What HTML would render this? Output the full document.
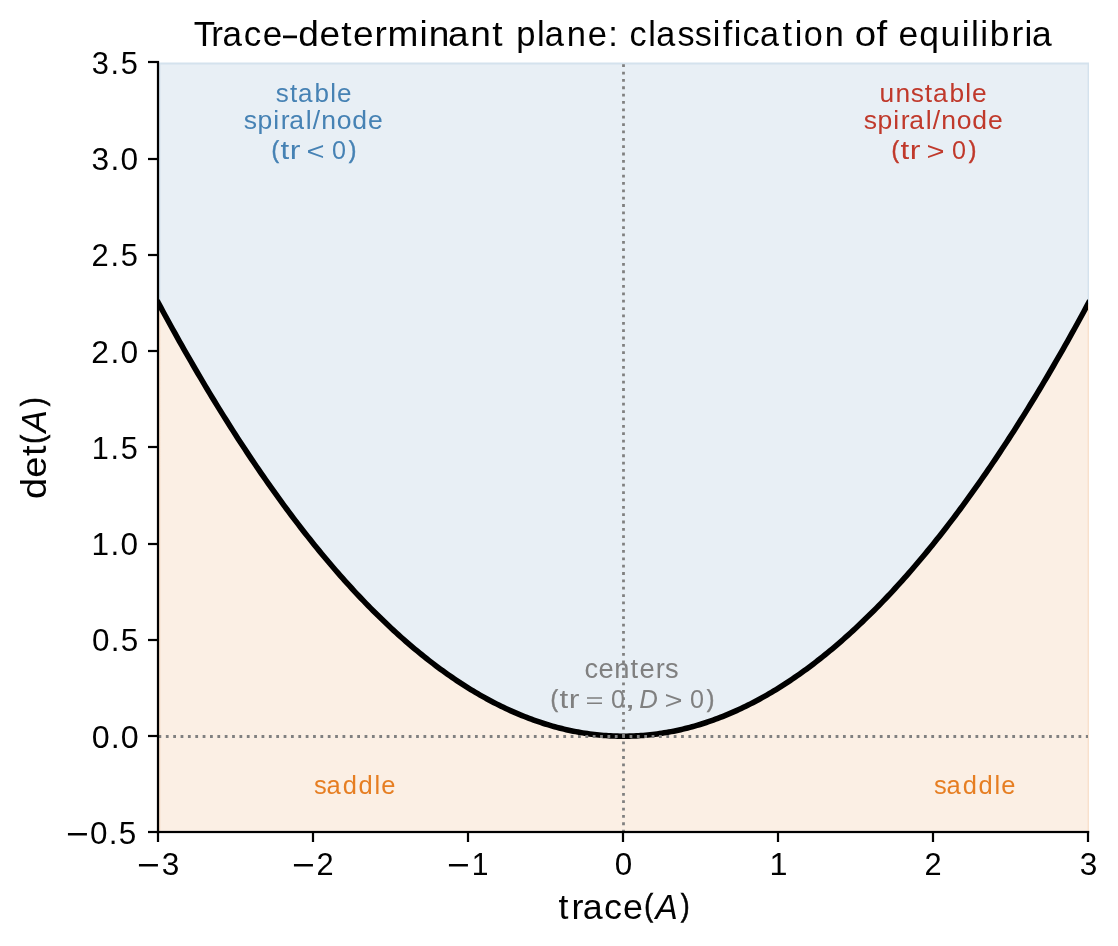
<!DOCTYPE html>
<html lang="en"><head><meta charset="utf-8"><title>Trace–determinant plane</title>
<style>
html,body{margin:0;padding:0;background:#fff;overflow:hidden}
svg{display:block}
svg text{font-family:"Liberation Sans",sans-serif;white-space:pre}
#labels{opacity:0.999}
</style></head><body>
<svg width="1118" height="946" viewBox="0 0 1118 946">
<defs><clipPath id="cf"><rect x="158" y="62" width="931" height="771"/></clipPath><clipPath id="cc"><rect x="158" y="62" width="930.1" height="771"/></clipPath></defs>
<rect x="0" y="0" width="1118" height="946" fill="#fff"/>
<g clip-path="url(#cf)">
<path d="M159.00 63.00 L159.00 303.63 L161.33 307.96 L163.66 312.27 L165.99 316.55 L168.32 320.82 L170.65 325.06 L172.98 329.29 L175.32 333.49 L177.65 337.67 L179.98 341.82 L182.31 345.96 L184.64 350.07 L186.97 354.16 L189.30 358.23 L191.63 362.28 L193.96 366.31 L196.29 370.31 L198.62 374.30 L200.95 378.26 L203.29 382.20 L205.62 386.11 L207.95 390.01 L210.28 393.88 L212.61 397.74 L214.94 401.57 L217.27 405.38 L219.60 409.16 L221.93 412.93 L224.26 416.67 L226.59 420.39 L228.92 424.09 L231.26 427.77 L233.59 431.43 L235.92 435.06 L238.25 438.68 L240.58 442.27 L242.91 445.84 L245.24 449.38 L247.57 452.91 L249.90 456.41 L252.23 459.90 L254.56 463.36 L256.89 466.80 L259.23 470.21 L261.56 473.61 L263.89 476.98 L266.22 480.33 L268.55 483.66 L270.88 486.97 L273.21 490.26 L275.54 493.52 L277.87 496.77 L280.20 499.99 L282.53 503.19 L284.86 506.37 L287.20 509.52 L289.53 512.66 L291.86 515.77 L294.19 518.86 L296.52 521.93 L298.85 524.97 L301.18 528.00 L303.51 531.00 L305.84 533.99 L308.17 536.95 L310.50 539.88 L312.83 542.80 L315.17 545.69 L317.50 548.57 L319.83 551.42 L322.16 554.25 L324.49 557.06 L326.82 559.84 L329.15 562.61 L331.48 565.35 L333.81 568.07 L336.14 570.77 L338.47 573.44 L340.80 576.10 L343.14 578.73 L345.47 581.35 L347.80 583.94 L350.13 586.50 L352.46 589.05 L354.79 591.58 L357.12 594.08 L359.45 596.56 L361.78 599.02 L364.11 601.46 L366.44 603.87 L368.77 606.27 L371.11 608.64 L373.44 610.99 L375.77 613.32 L378.10 615.63 L380.43 617.91 L382.76 620.17 L385.09 622.42 L387.42 624.64 L389.75 626.83 L392.08 629.01 L394.41 631.17 L396.74 633.30 L399.08 635.41 L401.41 637.50 L403.74 639.57 L406.07 641.61 L408.40 643.64 L410.73 645.64 L413.06 647.62 L415.39 649.58 L417.72 651.52 L420.05 653.43 L422.38 655.32 L424.71 657.20 L427.05 659.05 L429.38 660.87 L431.71 662.68 L434.04 664.47 L436.37 666.23 L438.70 667.97 L441.03 669.69 L443.36 671.39 L445.69 673.06 L448.02 674.72 L450.35 676.35 L452.68 677.96 L455.02 679.55 L457.35 681.12 L459.68 682.66 L462.01 684.18 L464.34 685.69 L466.67 687.17 L469.00 688.62 L471.33 690.06 L473.66 691.48 L475.99 692.87 L478.32 694.24 L480.65 695.59 L482.98 696.92 L485.32 698.22 L487.65 699.51 L489.98 700.77 L492.31 702.01 L494.64 703.23 L496.97 704.43 L499.30 705.60 L501.63 706.76 L503.96 707.89 L506.29 709.00 L508.62 710.09 L510.95 711.15 L513.29 712.20 L515.62 713.22 L517.95 714.22 L520.28 715.20 L522.61 716.16 L524.94 717.09 L527.27 718.01 L529.60 718.90 L531.93 719.77 L534.26 720.62 L536.59 721.45 L538.92 722.25 L541.26 723.04 L543.59 723.80 L545.92 724.54 L548.25 725.26 L550.58 725.95 L552.91 726.63 L555.24 727.28 L557.57 727.91 L559.90 728.52 L562.23 729.11 L564.56 729.67 L566.89 730.22 L569.23 730.74 L571.56 731.24 L573.89 731.72 L576.22 732.18 L578.55 732.61 L580.88 733.03 L583.21 733.42 L585.54 733.79 L587.87 734.14 L590.20 734.46 L592.53 734.77 L594.86 735.05 L597.20 735.31 L599.53 735.55 L601.86 735.77 L604.19 735.96 L606.52 736.14 L608.85 736.29 L611.18 736.42 L613.51 736.53 L615.84 736.62 L618.17 736.68 L620.50 736.73 L622.83 736.75 L625.17 736.75 L627.50 736.73 L629.83 736.68 L632.16 736.62 L634.49 736.53 L636.82 736.42 L639.15 736.29 L641.48 736.14 L643.81 735.96 L646.14 735.77 L648.47 735.55 L650.80 735.31 L653.14 735.05 L655.47 734.77 L657.80 734.46 L660.13 734.14 L662.46 733.79 L664.79 733.42 L667.12 733.03 L669.45 732.61 L671.78 732.18 L674.11 731.72 L676.44 731.24 L678.77 730.74 L681.11 730.22 L683.44 729.67 L685.77 729.11 L688.10 728.52 L690.43 727.91 L692.76 727.28 L695.09 726.63 L697.42 725.95 L699.75 725.26 L702.08 724.54 L704.41 723.80 L706.74 723.04 L709.08 722.25 L711.41 721.45 L713.74 720.62 L716.07 719.77 L718.40 718.90 L720.73 718.01 L723.06 717.09 L725.39 716.16 L727.72 715.20 L730.05 714.22 L732.38 713.22 L734.71 712.20 L737.05 711.15 L739.38 710.09 L741.71 709.00 L744.04 707.89 L746.37 706.76 L748.70 705.60 L751.03 704.43 L753.36 703.23 L755.69 702.01 L758.02 700.77 L760.35 699.51 L762.68 698.22 L765.02 696.92 L767.35 695.59 L769.68 694.24 L772.01 692.87 L774.34 691.48 L776.67 690.06 L779.00 688.62 L781.33 687.17 L783.66 685.69 L785.99 684.18 L788.32 682.66 L790.65 681.12 L792.98 679.55 L795.32 677.96 L797.65 676.35 L799.98 674.72 L802.31 673.06 L804.64 671.39 L806.97 669.69 L809.30 667.97 L811.63 666.23 L813.96 664.47 L816.29 662.68 L818.62 660.87 L820.95 659.05 L823.29 657.20 L825.62 655.32 L827.95 653.43 L830.28 651.52 L832.61 649.58 L834.94 647.62 L837.27 645.64 L839.60 643.64 L841.93 641.61 L844.26 639.57 L846.59 637.50 L848.92 635.41 L851.26 633.30 L853.59 631.17 L855.92 629.01 L858.25 626.83 L860.58 624.64 L862.91 622.42 L865.24 620.17 L867.57 617.91 L869.90 615.63 L872.23 613.32 L874.56 610.99 L876.89 608.64 L879.23 606.27 L881.56 603.87 L883.89 601.46 L886.22 599.02 L888.55 596.56 L890.88 594.08 L893.21 591.58 L895.54 589.05 L897.87 586.50 L900.20 583.94 L902.53 581.35 L904.86 578.73 L907.20 576.10 L909.53 573.44 L911.86 570.77 L914.19 568.07 L916.52 565.35 L918.85 562.61 L921.18 559.84 L923.51 557.06 L925.84 554.25 L928.17 551.42 L930.50 548.57 L932.83 545.69 L935.17 542.80 L937.50 539.88 L939.83 536.95 L942.16 533.99 L944.49 531.00 L946.82 528.00 L949.15 524.97 L951.48 521.93 L953.81 518.86 L956.14 515.77 L958.47 512.66 L960.80 509.52 L963.14 506.37 L965.47 503.19 L967.80 499.99 L970.13 496.77 L972.46 493.52 L974.79 490.26 L977.12 486.97 L979.45 483.66 L981.78 480.33 L984.11 476.98 L986.44 473.61 L988.77 470.21 L991.11 466.80 L993.44 463.36 L995.77 459.90 L998.10 456.41 L1000.43 452.91 L1002.76 449.38 L1005.09 445.84 L1007.42 442.27 L1009.75 438.68 L1012.08 435.06 L1014.41 431.43 L1016.74 427.77 L1019.08 424.09 L1021.41 420.39 L1023.74 416.67 L1026.07 412.93 L1028.40 409.16 L1030.73 405.38 L1033.06 401.57 L1035.39 397.74 L1037.72 393.88 L1040.05 390.01 L1042.38 386.11 L1044.71 382.20 L1047.05 378.26 L1049.38 374.30 L1051.71 370.31 L1054.04 366.31 L1056.37 362.28 L1058.70 358.23 L1061.03 354.16 L1063.36 350.07 L1065.69 345.96 L1068.02 341.82 L1070.35 337.67 L1072.68 333.49 L1075.02 329.29 L1077.35 325.06 L1079.68 320.82 L1082.01 316.55 L1084.34 312.27 L1086.67 307.96 L1089.00 303.63 L1089.00 63.00 Z" fill="#e8eff5" stroke="#4682b4" stroke-opacity="0.12" stroke-width="2.78" stroke-linejoin="miter"/>
<path d="M159.00 833.00 L159.00 303.63 L161.33 307.96 L163.66 312.27 L165.99 316.55 L168.32 320.82 L170.65 325.06 L172.98 329.29 L175.32 333.49 L177.65 337.67 L179.98 341.82 L182.31 345.96 L184.64 350.07 L186.97 354.16 L189.30 358.23 L191.63 362.28 L193.96 366.31 L196.29 370.31 L198.62 374.30 L200.95 378.26 L203.29 382.20 L205.62 386.11 L207.95 390.01 L210.28 393.88 L212.61 397.74 L214.94 401.57 L217.27 405.38 L219.60 409.16 L221.93 412.93 L224.26 416.67 L226.59 420.39 L228.92 424.09 L231.26 427.77 L233.59 431.43 L235.92 435.06 L238.25 438.68 L240.58 442.27 L242.91 445.84 L245.24 449.38 L247.57 452.91 L249.90 456.41 L252.23 459.90 L254.56 463.36 L256.89 466.80 L259.23 470.21 L261.56 473.61 L263.89 476.98 L266.22 480.33 L268.55 483.66 L270.88 486.97 L273.21 490.26 L275.54 493.52 L277.87 496.77 L280.20 499.99 L282.53 503.19 L284.86 506.37 L287.20 509.52 L289.53 512.66 L291.86 515.77 L294.19 518.86 L296.52 521.93 L298.85 524.97 L301.18 528.00 L303.51 531.00 L305.84 533.99 L308.17 536.95 L310.50 539.88 L312.83 542.80 L315.17 545.69 L317.50 548.57 L319.83 551.42 L322.16 554.25 L324.49 557.06 L326.82 559.84 L329.15 562.61 L331.48 565.35 L333.81 568.07 L336.14 570.77 L338.47 573.44 L340.80 576.10 L343.14 578.73 L345.47 581.35 L347.80 583.94 L350.13 586.50 L352.46 589.05 L354.79 591.58 L357.12 594.08 L359.45 596.56 L361.78 599.02 L364.11 601.46 L366.44 603.87 L368.77 606.27 L371.11 608.64 L373.44 610.99 L375.77 613.32 L378.10 615.63 L380.43 617.91 L382.76 620.17 L385.09 622.42 L387.42 624.64 L389.75 626.83 L392.08 629.01 L394.41 631.17 L396.74 633.30 L399.08 635.41 L401.41 637.50 L403.74 639.57 L406.07 641.61 L408.40 643.64 L410.73 645.64 L413.06 647.62 L415.39 649.58 L417.72 651.52 L420.05 653.43 L422.38 655.32 L424.71 657.20 L427.05 659.05 L429.38 660.87 L431.71 662.68 L434.04 664.47 L436.37 666.23 L438.70 667.97 L441.03 669.69 L443.36 671.39 L445.69 673.06 L448.02 674.72 L450.35 676.35 L452.68 677.96 L455.02 679.55 L457.35 681.12 L459.68 682.66 L462.01 684.18 L464.34 685.69 L466.67 687.17 L469.00 688.62 L471.33 690.06 L473.66 691.48 L475.99 692.87 L478.32 694.24 L480.65 695.59 L482.98 696.92 L485.32 698.22 L487.65 699.51 L489.98 700.77 L492.31 702.01 L494.64 703.23 L496.97 704.43 L499.30 705.60 L501.63 706.76 L503.96 707.89 L506.29 709.00 L508.62 710.09 L510.95 711.15 L513.29 712.20 L515.62 713.22 L517.95 714.22 L520.28 715.20 L522.61 716.16 L524.94 717.09 L527.27 718.01 L529.60 718.90 L531.93 719.77 L534.26 720.62 L536.59 721.45 L538.92 722.25 L541.26 723.04 L543.59 723.80 L545.92 724.54 L548.25 725.26 L550.58 725.95 L552.91 726.63 L555.24 727.28 L557.57 727.91 L559.90 728.52 L562.23 729.11 L564.56 729.67 L566.89 730.22 L569.23 730.74 L571.56 731.24 L573.89 731.72 L576.22 732.18 L578.55 732.61 L580.88 733.03 L583.21 733.42 L585.54 733.79 L587.87 734.14 L590.20 734.46 L592.53 734.77 L594.86 735.05 L597.20 735.31 L599.53 735.55 L601.86 735.77 L604.19 735.96 L606.52 736.14 L608.85 736.29 L611.18 736.42 L613.51 736.53 L615.84 736.62 L618.17 736.68 L620.50 736.73 L622.83 736.75 L625.17 736.75 L627.50 736.73 L629.83 736.68 L632.16 736.62 L634.49 736.53 L636.82 736.42 L639.15 736.29 L641.48 736.14 L643.81 735.96 L646.14 735.77 L648.47 735.55 L650.80 735.31 L653.14 735.05 L655.47 734.77 L657.80 734.46 L660.13 734.14 L662.46 733.79 L664.79 733.42 L667.12 733.03 L669.45 732.61 L671.78 732.18 L674.11 731.72 L676.44 731.24 L678.77 730.74 L681.11 730.22 L683.44 729.67 L685.77 729.11 L688.10 728.52 L690.43 727.91 L692.76 727.28 L695.09 726.63 L697.42 725.95 L699.75 725.26 L702.08 724.54 L704.41 723.80 L706.74 723.04 L709.08 722.25 L711.41 721.45 L713.74 720.62 L716.07 719.77 L718.40 718.90 L720.73 718.01 L723.06 717.09 L725.39 716.16 L727.72 715.20 L730.05 714.22 L732.38 713.22 L734.71 712.20 L737.05 711.15 L739.38 710.09 L741.71 709.00 L744.04 707.89 L746.37 706.76 L748.70 705.60 L751.03 704.43 L753.36 703.23 L755.69 702.01 L758.02 700.77 L760.35 699.51 L762.68 698.22 L765.02 696.92 L767.35 695.59 L769.68 694.24 L772.01 692.87 L774.34 691.48 L776.67 690.06 L779.00 688.62 L781.33 687.17 L783.66 685.69 L785.99 684.18 L788.32 682.66 L790.65 681.12 L792.98 679.55 L795.32 677.96 L797.65 676.35 L799.98 674.72 L802.31 673.06 L804.64 671.39 L806.97 669.69 L809.30 667.97 L811.63 666.23 L813.96 664.47 L816.29 662.68 L818.62 660.87 L820.95 659.05 L823.29 657.20 L825.62 655.32 L827.95 653.43 L830.28 651.52 L832.61 649.58 L834.94 647.62 L837.27 645.64 L839.60 643.64 L841.93 641.61 L844.26 639.57 L846.59 637.50 L848.92 635.41 L851.26 633.30 L853.59 631.17 L855.92 629.01 L858.25 626.83 L860.58 624.64 L862.91 622.42 L865.24 620.17 L867.57 617.91 L869.90 615.63 L872.23 613.32 L874.56 610.99 L876.89 608.64 L879.23 606.27 L881.56 603.87 L883.89 601.46 L886.22 599.02 L888.55 596.56 L890.88 594.08 L893.21 591.58 L895.54 589.05 L897.87 586.50 L900.20 583.94 L902.53 581.35 L904.86 578.73 L907.20 576.10 L909.53 573.44 L911.86 570.77 L914.19 568.07 L916.52 565.35 L918.85 562.61 L921.18 559.84 L923.51 557.06 L925.84 554.25 L928.17 551.42 L930.50 548.57 L932.83 545.69 L935.17 542.80 L937.50 539.88 L939.83 536.95 L942.16 533.99 L944.49 531.00 L946.82 528.00 L949.15 524.97 L951.48 521.93 L953.81 518.86 L956.14 515.77 L958.47 512.66 L960.80 509.52 L963.14 506.37 L965.47 503.19 L967.80 499.99 L970.13 496.77 L972.46 493.52 L974.79 490.26 L977.12 486.97 L979.45 483.66 L981.78 480.33 L984.11 476.98 L986.44 473.61 L988.77 470.21 L991.11 466.80 L993.44 463.36 L995.77 459.90 L998.10 456.41 L1000.43 452.91 L1002.76 449.38 L1005.09 445.84 L1007.42 442.27 L1009.75 438.68 L1012.08 435.06 L1014.41 431.43 L1016.74 427.77 L1019.08 424.09 L1021.41 420.39 L1023.74 416.67 L1026.07 412.93 L1028.40 409.16 L1030.73 405.38 L1033.06 401.57 L1035.39 397.74 L1037.72 393.88 L1040.05 390.01 L1042.38 386.11 L1044.71 382.20 L1047.05 378.26 L1049.38 374.30 L1051.71 370.31 L1054.04 366.31 L1056.37 362.28 L1058.70 358.23 L1061.03 354.16 L1063.36 350.07 L1065.69 345.96 L1068.02 341.82 L1070.35 337.67 L1072.68 333.49 L1075.02 329.29 L1077.35 325.06 L1079.68 320.82 L1082.01 316.55 L1084.34 312.27 L1086.67 307.96 L1089.00 303.63 L1089.00 833.00 Z" fill="#fbefe4" stroke="#e67e22" stroke-opacity="0.12" stroke-width="2.78" stroke-linejoin="miter"/>
</g>
<g clip-path="url(#cc)"><path d="M158.45 303.08 L160.78 307.41 L163.11 311.72 L165.44 316.00 L167.77 320.27 L170.10 324.51 L172.43 328.74 L174.77 332.94 L177.10 337.12 L179.43 341.27 L181.76 345.41 L184.09 349.52 L186.42 353.61 L188.75 357.68 L191.08 361.73 L193.41 365.76 L195.74 369.76 L198.07 373.75 L200.40 377.71 L202.74 381.65 L205.07 385.56 L207.40 389.46 L209.73 393.33 L212.06 397.19 L214.39 401.02 L216.72 404.83 L219.05 408.61 L221.38 412.38 L223.71 416.12 L226.04 419.84 L228.37 423.54 L230.71 427.22 L233.04 430.88 L235.37 434.51 L237.70 438.13 L240.03 441.72 L242.36 445.29 L244.69 448.83 L247.02 452.36 L249.35 455.86 L251.68 459.35 L254.01 462.81 L256.34 466.25 L258.68 469.66 L261.01 473.06 L263.34 476.43 L265.67 479.78 L268.00 483.11 L270.33 486.42 L272.66 489.71 L274.99 492.97 L277.32 496.22 L279.65 499.44 L281.98 502.64 L284.31 505.82 L286.65 508.97 L288.98 512.11 L291.31 515.22 L293.64 518.31 L295.97 521.38 L298.30 524.42 L300.63 527.45 L302.96 530.45 L305.29 533.44 L307.62 536.40 L309.95 539.33 L312.28 542.25 L314.62 545.14 L316.95 548.02 L319.28 550.87 L321.61 553.70 L323.94 556.51 L326.27 559.29 L328.60 562.06 L330.93 564.80 L333.26 567.52 L335.59 570.22 L337.92 572.89 L340.25 575.55 L342.59 578.18 L344.92 580.80 L347.25 583.39 L349.58 585.95 L351.91 588.50 L354.24 591.03 L356.57 593.53 L358.90 596.01 L361.23 598.47 L363.56 600.91 L365.89 603.32 L368.22 605.72 L370.56 608.09 L372.89 610.44 L375.22 612.77 L377.55 615.08 L379.88 617.36 L382.21 619.62 L384.54 621.87 L386.87 624.09 L389.20 626.28 L391.53 628.46 L393.86 630.62 L396.19 632.75 L398.53 634.86 L400.86 636.95 L403.19 639.02 L405.52 641.06 L407.85 643.09 L410.18 645.09 L412.51 647.07 L414.84 649.03 L417.17 650.97 L419.50 652.88 L421.83 654.77 L424.16 656.65 L426.50 658.50 L428.83 660.32 L431.16 662.13 L433.49 663.92 L435.82 665.68 L438.15 667.42 L440.48 669.14 L442.81 670.84 L445.14 672.51 L447.47 674.17 L449.80 675.80 L452.13 677.41 L454.47 679.00 L456.80 680.57 L459.13 682.11 L461.46 683.63 L463.79 685.14 L466.12 686.62 L468.45 688.08 L470.78 689.51 L473.11 690.93 L475.44 692.32 L477.77 693.69 L480.10 695.04 L482.43 696.37 L484.77 697.67 L487.10 698.96 L489.43 700.22 L491.76 701.46 L494.09 702.68 L496.42 703.88 L498.75 705.05 L501.08 706.21 L503.41 707.34 L505.74 708.45 L508.07 709.54 L510.40 710.60 L512.74 711.65 L515.07 712.67 L517.40 713.67 L519.73 714.65 L522.06 715.61 L524.39 716.54 L526.72 717.46 L529.05 718.35 L531.38 719.22 L533.71 720.07 L536.04 720.90 L538.37 721.70 L540.71 722.49 L543.04 723.25 L545.37 723.99 L547.70 724.71 L550.03 725.40 L552.36 726.08 L554.69 726.73 L557.02 727.36 L559.35 727.97 L561.68 728.56 L564.01 729.12 L566.34 729.67 L568.68 730.19 L571.01 730.69 L573.34 731.17 L575.67 731.63 L578.00 732.06 L580.33 732.48 L582.66 732.87 L584.99 733.24 L587.32 733.59 L589.65 733.91 L591.98 734.22 L594.31 734.50 L596.65 734.76 L598.98 735.00 L601.31 735.22 L603.64 735.41 L605.97 735.59 L608.30 735.74 L610.63 735.87 L612.96 735.98 L615.29 736.07 L617.62 736.13 L619.95 736.18 L622.28 736.20 L624.62 736.20 L626.95 736.18 L629.28 736.13 L631.61 736.07 L633.94 735.98 L636.27 735.87 L638.60 735.74 L640.93 735.59 L643.26 735.41 L645.59 735.22 L647.92 735.00 L650.25 734.76 L652.59 734.50 L654.92 734.22 L657.25 733.91 L659.58 733.59 L661.91 733.24 L664.24 732.87 L666.57 732.48 L668.90 732.06 L671.23 731.63 L673.56 731.17 L675.89 730.69 L678.22 730.19 L680.56 729.67 L682.89 729.12 L685.22 728.56 L687.55 727.97 L689.88 727.36 L692.21 726.73 L694.54 726.08 L696.87 725.40 L699.20 724.71 L701.53 723.99 L703.86 723.25 L706.19 722.49 L708.53 721.70 L710.86 720.90 L713.19 720.07 L715.52 719.22 L717.85 718.35 L720.18 717.46 L722.51 716.54 L724.84 715.61 L727.17 714.65 L729.50 713.67 L731.83 712.67 L734.16 711.65 L736.50 710.60 L738.83 709.54 L741.16 708.45 L743.49 707.34 L745.82 706.21 L748.15 705.05 L750.48 703.88 L752.81 702.68 L755.14 701.46 L757.47 700.22 L759.80 698.96 L762.13 697.67 L764.47 696.37 L766.80 695.04 L769.13 693.69 L771.46 692.32 L773.79 690.93 L776.12 689.51 L778.45 688.08 L780.78 686.62 L783.11 685.14 L785.44 683.63 L787.77 682.11 L790.10 680.57 L792.43 679.00 L794.77 677.41 L797.10 675.80 L799.43 674.17 L801.76 672.51 L804.09 670.84 L806.42 669.14 L808.75 667.42 L811.08 665.68 L813.41 663.92 L815.74 662.13 L818.07 660.32 L820.40 658.50 L822.74 656.65 L825.07 654.77 L827.40 652.88 L829.73 650.97 L832.06 649.03 L834.39 647.07 L836.72 645.09 L839.05 643.09 L841.38 641.06 L843.71 639.02 L846.04 636.95 L848.37 634.86 L850.71 632.75 L853.04 630.62 L855.37 628.46 L857.70 626.28 L860.03 624.09 L862.36 621.87 L864.69 619.62 L867.02 617.36 L869.35 615.08 L871.68 612.77 L874.01 610.44 L876.34 608.09 L878.68 605.72 L881.01 603.32 L883.34 600.91 L885.67 598.47 L888.00 596.01 L890.33 593.53 L892.66 591.03 L894.99 588.50 L897.32 585.95 L899.65 583.39 L901.98 580.80 L904.31 578.18 L906.65 575.55 L908.98 572.89 L911.31 570.22 L913.64 567.52 L915.97 564.80 L918.30 562.06 L920.63 559.29 L922.96 556.51 L925.29 553.70 L927.62 550.87 L929.95 548.02 L932.28 545.14 L934.62 542.25 L936.95 539.33 L939.28 536.40 L941.61 533.44 L943.94 530.45 L946.27 527.45 L948.60 524.42 L950.93 521.38 L953.26 518.31 L955.59 515.22 L957.92 512.11 L960.25 508.97 L962.59 505.82 L964.92 502.64 L967.25 499.44 L969.58 496.22 L971.91 492.97 L974.24 489.71 L976.57 486.42 L978.90 483.11 L981.23 479.78 L983.56 476.43 L985.89 473.06 L988.22 469.66 L990.56 466.25 L992.89 462.81 L995.22 459.35 L997.55 455.86 L999.88 452.36 L1002.21 448.83 L1004.54 445.29 L1006.87 441.72 L1009.20 438.13 L1011.53 434.51 L1013.86 430.88 L1016.19 427.22 L1018.53 423.54 L1020.86 419.84 L1023.19 416.12 L1025.52 412.38 L1027.85 408.61 L1030.18 404.83 L1032.51 401.02 L1034.84 397.19 L1037.17 393.33 L1039.50 389.46 L1041.83 385.56 L1044.16 381.65 L1046.50 377.71 L1048.83 373.75 L1051.16 369.76 L1053.49 365.76 L1055.82 361.73 L1058.15 357.68 L1060.48 353.61 L1062.81 349.52 L1065.14 345.41 L1067.47 341.27 L1069.80 337.12 L1072.13 332.94 L1074.47 328.74 L1076.80 324.51 L1079.13 320.27 L1081.46 316.00 L1083.79 311.72 L1086.12 307.41 L1088.45 303.08" fill="none" stroke="#000" stroke-width="5.56" stroke-linejoin="round" stroke-linecap="square"/></g>
<g clip-path="url(#cc)" stroke="#808080" stroke-width="2.78" stroke-dasharray="2.78 4.58" fill="none">
<path d="M158.5 736.5 H1089"/>
<path d="M623.5 832.5 V62"/>
</g>
<g fill="#000">
<rect x="156.89" y="61.34" width="2.22" height="772.22"/>
<rect x="156.89" y="830.89" width="932.26" height="2.22"/>
<rect x="148.00" y="60.89" width="11.00" height="2.22"/>
<rect x="148.00" y="157.89" width="11.00" height="2.22"/>
<rect x="148.00" y="253.89" width="11.00" height="2.22"/>
<rect x="148.00" y="349.89" width="11.00" height="2.22"/>
<rect x="148.00" y="445.89" width="11.00" height="2.22"/>
<rect x="148.00" y="542.89" width="11.00" height="2.22"/>
<rect x="148.00" y="638.89" width="11.00" height="2.22"/>
<rect x="148.00" y="734.89" width="11.00" height="2.22"/>
<rect x="148.00" y="830.89" width="11.00" height="2.22"/>
<rect x="156.89" y="831.00" width="2.22" height="11.00"/>
<rect x="311.89" y="831.00" width="2.22" height="11.00"/>
<rect x="466.89" y="831.00" width="2.22" height="11.00"/>
<rect x="621.89" y="831.00" width="2.22" height="11.00"/>
<rect x="776.89" y="831.00" width="2.22" height="11.00"/>
<rect x="931.89" y="831.00" width="2.22" height="11.00"/>
<rect x="1086.89" y="831.00" width="2.22" height="11.00"/>
</g>
<g id="labels">
<text class="ev" transform="translate(193.63 45.66) scale(0.9895 1)" font-size="35.39" fill="#000" x="0.00 17.78 29.28 50.73 69.82">Trace</text>
<text class="od" transform="translate(283.00 46.85) rotate(0.03) scale(0.7128 1.1298)" font-size="35.39" fill="#000">–</text>
<text class="ev" transform="translate(298.27 45.66) scale(1.0473 1)" font-size="35.39" fill="#000" x="0.00 20.17 40.95 52.16 72.86 85.10 115.87 124.50 143.07 164.13 185.24">determinant</text>
<text class="od" transform="translate(516.17 45.66) scale(0.9760 1)" font-size="35.39" fill="#000" x="0.00 21.37 29.40 51.95 73.32 94.38">plane:</text>
<text class="ev" transform="translate(629.42 45.66) scale(0.9656 1)" font-size="35.39" fill="#000" x="0.00 19.58 27.76 49.75 67.75 86.25 96.55 107.99 117.03 135.21 158.60 171.17 180.64 202.26">classification</text>
<text class="od" transform="translate(854.65 45.66) scale(1.0872 1)" font-size="35.39" fill="#000" x="0.00 20.11">of</text>
<text class="ev" transform="translate(898.61 45.66) scale(1.0004 1)" font-size="35.39" fill="#000" x="0.00 20.60 41.92 63.05 72.29 81.54 91.02 112.87 125.77 133.44">equilibria</text>
<text class="ev" transform="translate(558.58 918.64) scale(1.0003 1)" font-size="35.84" fill="#000" x="0.00 12.98 24.26 45.52 64.39">trace</text>
<text class="od" transform="translate(644.33 916.44) rotate(0.03) scale(0.7440 0.8826)" font-size="35.84" fill="#000" stroke="#000" stroke-width="0.72">(</text>
<text class="ev" transform="translate(655.58 918.64) scale(0.9300 1)" font-size="35.84" fill="#000"><tspan font-style="italic">A</tspan></text>
<text class="od" transform="translate(680.80 916.44) rotate(0.03) scale(0.7440 0.8826)" font-size="35.84" fill="#000" stroke="#000" stroke-width="0.72">)</text>
<text class="ev" transform="translate(275.84 101.74) scale(1.0075 1)" font-size="25.85" fill="#4682b4" x="0.00 13.97 21.97 38.45 53.98 60.79">stable</text>
<text class="ev" transform="translate(243.71 128.66) scale(1.0319 1)" font-size="25.74" fill="#4682b4" x="0.00 13.29 28.55 35.91 44.19 60.16 66.93 75.11 90.13 105.08 120.39">spiral/node</text>
<text class="ev" transform="translate(271.57 157.88) rotate(0.03) scale(0.8984 0.9695)" font-size="25.44" fill="#4682b4" stroke="#4682b4" stroke-width="0.51">(</text>
<text class="od" transform="translate(280.53 158.75) scale(1.2331 1)" font-size="25.44" fill="#4682b4">t</text>
<text class="ev" transform="translate(289.84 158.75) scale(1.2578 1)" font-size="25.44" fill="#4682b4">r</text>
<text class="od" transform="translate(306.45 159.92) rotate(0.03) scale(1.2156 1.0068)" font-size="25.44" fill="#4682b4">&lt;</text>
<text class="ev" transform="translate(331.99 158.75) scale(0.9878 1)" font-size="25.44" fill="#4682b4">0</text>
<text class="od" transform="translate(348.83 157.88) rotate(0.03) scale(0.8984 0.9695)" font-size="25.44" fill="#4682b4" stroke="#4682b4" stroke-width="0.51">)</text>
<text class="ev" transform="translate(879.44 101.74) scale(1.0193 1)" font-size="25.85" fill="#c0392b" x="0.00 15.67 30.73 44.57 52.43 68.72 84.14 90.81">unstable</text>
<text class="ev" transform="translate(863.71 128.66) scale(1.0319 1)" font-size="25.74" fill="#c0392b" x="0.00 13.29 28.55 35.91 44.19 60.16 66.93 75.11 90.13 105.08 120.39">spiral/node</text>
<text class="ev" transform="translate(891.57 157.88) rotate(0.03) scale(0.8984 0.9695)" font-size="25.44" fill="#c0392b" stroke="#c0392b" stroke-width="0.51">(</text>
<text class="od" transform="translate(900.53 158.75) scale(1.2331 1)" font-size="25.44" fill="#c0392b">t</text>
<text class="ev" transform="translate(909.84 158.75) scale(1.2578 1)" font-size="25.44" fill="#c0392b">r</text>
<text class="od" transform="translate(926.45 159.92) rotate(0.03) scale(1.2156 1.0068)" font-size="25.44" fill="#c0392b">&gt;</text>
<text class="ev" transform="translate(951.99 158.75) scale(0.9878 1)" font-size="25.44" fill="#c0392b">0</text>
<text class="od" transform="translate(968.83 157.88) rotate(0.03) scale(0.8984 0.9695)" font-size="25.44" fill="#c0392b" stroke="#c0392b" stroke-width="0.51">)</text>
<text class="ev" transform="translate(584.39 677.73) scale(0.9920 1)" font-size="27.48" fill="#808080" x="0.00 14.22 30.00 46.60 55.55 71.94 81.30">centers</text>
<text class="ev" transform="translate(550.57 706.88) rotate(0.03) scale(0.8984 0.9695)" font-size="25.44" fill="#808080" stroke="#808080" stroke-width="0.51">(</text>
<text class="od" transform="translate(559.53 707.75) scale(1.2331 1)" font-size="25.44" fill="#808080">t</text>
<text class="ev" transform="translate(568.84 707.75) scale(1.2578 1)" font-size="25.44" fill="#808080">r</text>
<text class="od" transform="translate(585.45 707.64) rotate(0.03) scale(1.2156 0.8531)" font-size="25.44" fill="#808080">=</text>
<text class="ev" transform="translate(610.99 707.75) scale(0.9878 1)" font-size="25.44" fill="#808080">0</text>
<text class="od" transform="translate(624.31 707.74) rotate(0.03) scale(1.6125 1.0035)" font-size="25.44" fill="#808080">,</text>
<text class="ev" transform="translate(639.23 707.75) scale(1.0124 1)" font-size="25.44" fill="#808080"><tspan font-style="italic">D</tspan></text>
<text class="od" transform="translate(664.45 708.92) rotate(0.03) scale(1.2156 1.0068)" font-size="25.44" fill="#808080">&gt;</text>
<text class="ev" transform="translate(689.99 707.75) scale(0.9878 1)" font-size="25.44" fill="#808080">0</text>
<text class="od" transform="translate(706.83 706.88) rotate(0.03) scale(0.8984 0.9695)" font-size="25.44" fill="#808080" stroke="#808080" stroke-width="0.51">)</text>
<text class="ev" transform="translate(313.97 793.74) scale(0.9862 1)" font-size="25.85" fill="#e67e22" x="0.00 12.59 29.11 45.21 61.29 68.33">saddle</text>
<text class="ev" transform="translate(933.97 793.74) scale(0.9862 1)" font-size="25.85" fill="#e67e22" x="0.00 12.59 29.11 45.21 61.29 68.33">saddle</text>
<text class="ev" transform="translate(91.84 73.69) scale(0.9905 1)" font-size="31.10" fill="#000" x="0.00 18.96 29.17">3.5</text>
<text class="ev" transform="translate(91.62 169.69) scale(1.0170 1)" font-size="31.10" fill="#000" x="0.00 18.58 28.52">3.0</text>
<text class="ev" transform="translate(91.48 265.69) scale(0.9942 1)" font-size="31.10" fill="#000" x="0.00 19.24 29.39">2.5</text>
<text class="ev" transform="translate(91.25 362.69) scale(1.0211 1)" font-size="31.10" fill="#000" x="0.00 18.84 28.73">2.0</text>
<text class="ev" transform="translate(91.66 458.68) scale(0.9725 1)" font-size="31.54" fill="#000" x="0.00 19.46 29.87">1.5</text>
<text class="ev" transform="translate(91.41 554.69) scale(1.0140 1)" font-size="31.10" fill="#000" x="0.00 18.79 28.77">1.0</text>
<text class="ev" transform="translate(91.92 650.69) scale(1.0112 1)" font-size="31.10" fill="#000" x="0.00 18.65 28.56">0.5</text>
<text class="ev" transform="translate(91.69 747.69) scale(1.0375 1)" font-size="31.10" fill="#000" x="0.00 18.29 27.95">0.0</text>
<text class="ev" transform="translate(66.04 845.81) rotate(0.03) scale(1.2598 1.1160)" font-size="31.10" fill="#000">−</text>
<text class="od" transform="translate(89.92 843.69) scale(1.0112 1)" font-size="31.10" fill="#000" x="0.00 18.65 28.56">0.5</text>
<text class="ev" transform="translate(137.04 876.81) rotate(0.03) scale(1.2598 1.1160)" font-size="31.10" fill="#000">−</text>
<text class="od" transform="translate(161.82 874.69) scale(1.0156 1)" font-size="31.10" fill="#000">3</text>
<text class="ev" transform="translate(292.04 876.81) rotate(0.03) scale(1.2420 1.1002)" font-size="31.54" fill="#000">−</text>
<text class="od" transform="translate(316.46 875.00) scale(0.9755 1)" font-size="31.54" fill="#000">2</text>
<text class="ev" transform="translate(447.04 876.81) rotate(0.03) scale(1.2242 1.0844)" font-size="32.00" fill="#000">−</text>
<text class="od" transform="translate(471.75 875.00) scale(0.9393 1)" font-size="32.00" fill="#000">1</text>
<text class="ev" transform="translate(614.74 874.69) scale(1.0102 1)" font-size="31.10" fill="#000">0</text>
<text class="ev" transform="translate(769.57 875.00) scale(1.0116 1)" font-size="32.00" fill="#000">1</text>
<text class="ev" transform="translate(924.46 875.00) scale(0.9755 1)" font-size="31.54" fill="#000">2</text>
<text class="ev" transform="translate(1079.82 874.69) scale(1.0156 1)" font-size="31.10" fill="#000">3</text>
<text class="ev" transform="translate(43.32 406.20) rotate(-90) scale(0.7538 0.9095)" font-size="35.37" fill="#000" stroke="#000" stroke-width="0.71">)</text>
<text class="od" transform="translate(45.65 432.42) rotate(-90) scale(0.9423 1)" font-size="35.37" fill="#000"><tspan font-style="italic">A</tspan></text>
<text class="ev" transform="translate(43.32 443.67) rotate(-90) scale(0.7538 0.9095)" font-size="35.37" fill="#000" stroke="#000" stroke-width="0.71">(</text>
<text class="od" transform="translate(45.65 498.97) rotate(-90) scale(1.0736 1)" font-size="35.37" fill="#000" x="0.00 19.67 40.05">det</text>
</g>
</svg>
</body></html>
